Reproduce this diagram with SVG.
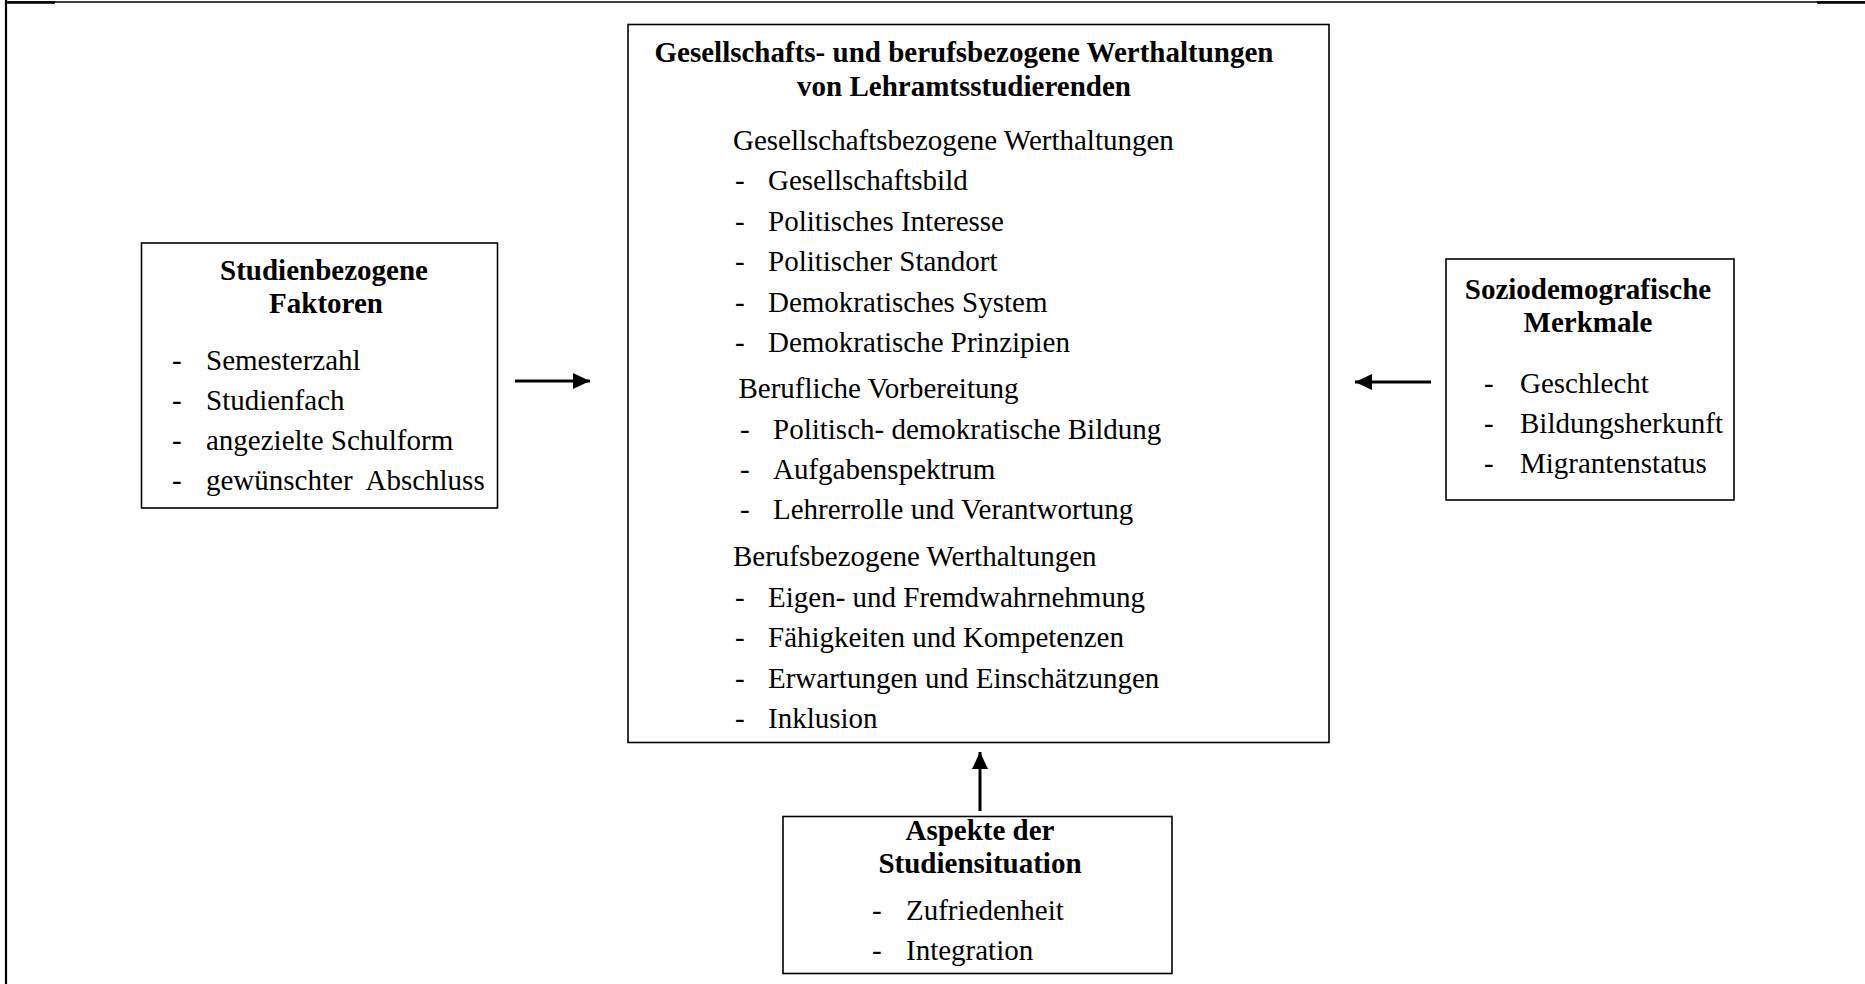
<svg xmlns="http://www.w3.org/2000/svg" width="1865" height="984" viewBox="0 0 1865 984">
<style>
.t{font-family:"Liberation Serif","Times New Roman",serif;font-size:29px;fill:#000;white-space:pre}
.b{font-weight:bold}
.c{text-anchor:middle}
.box{fill:#fff;stroke:#000;stroke-width:1.6}
.arr{stroke:#000;stroke-width:3;fill:none}
</style>
<defs>
<marker id="ah" markerUnits="userSpaceOnUse" markerWidth="18" markerHeight="18" viewBox="0 0 18 18" refX="17" refY="9" orient="auto">
<path d="M0,1 L17,9 L0,17 Z" fill="#000"/>
</marker>
</defs>
<rect width="1865" height="984" fill="#fff"/>
<g id="frame">
<line x1="6" y1="0" x2="6" y2="984" stroke="#000" stroke-width="2.2"/>
<line x1="5" y1="2" x2="1865" y2="2" stroke="#000" stroke-width="1.4"/>
<line x1="5" y1="2.5" x2="55" y2="2.5" stroke="#000" stroke-width="2.5"/>
<line x1="1817" y1="2.5" x2="1865" y2="2.5" stroke="#000" stroke-width="2.5"/>
</g>
<g id="connectors">
<line class="arr" x1="515" y1="381" x2="590" y2="381" marker-end="url(#ah)"/>
<line class="arr" x1="1431" y1="382" x2="1355" y2="382" marker-end="url(#ah)"/>
<line class="arr" x1="980" y1="811" x2="980" y2="752" marker-end="url(#ah)"/>
</g>
<g id="node-center">
<rect class="box" x="628" y="24.5" width="701" height="718"/>
<text class="t b c" x="964" y="62">Gesellschafts- und berufsbezogene Werthaltungen</text>
<text class="t b c" x="964" y="95.5">von Lehramtsstudierenden</text>
<text class="t" x="733" y="150">Gesellschaftsbezogene Werthaltungen</text>
<text class="t" x="735" y="190">-</text><text class="t" x="768" y="190">Gesellschaftsbild</text>
<text class="t" x="735" y="230.5">-</text><text class="t" x="768" y="230.5">Politisches Interesse</text>
<text class="t" x="735" y="271">-</text><text class="t" x="768" y="271">Politischer Standort</text>
<text class="t" x="735" y="311.5">-</text><text class="t" x="768" y="311.5">Demokratisches System</text>
<text class="t" x="735" y="352">-</text><text class="t" x="768" y="352">Demokratische Prinzipien</text>
<text class="t" x="738.5" y="398">Berufliche Vorbereitung</text>
<text class="t" x="740" y="439">-</text><text class="t" x="773" y="439">Politisch- demokratische Bildung</text>
<text class="t" x="740" y="479">-</text><text class="t" x="773" y="479">Aufgabenspektrum</text>
<text class="t" x="740" y="519">-</text><text class="t" x="773" y="519">Lehrerrolle und Verantwortung</text>
<text class="t" x="733" y="566">Berufsbezogene Werthaltungen</text>
<text class="t" x="735" y="607">-</text><text class="t" x="768" y="607">Eigen- und Fremdwahrnehmung</text>
<text class="t" x="735" y="647">-</text><text class="t" x="768" y="647">Fähigkeiten und Kompetenzen</text>
<text class="t" x="735" y="688">-</text><text class="t" x="768" y="688">Erwartungen und Einschätzungen</text>
<text class="t" x="735" y="728">-</text><text class="t" x="768" y="728">Inklusion</text>
</g>
<g id="node-left">
<rect class="box" x="141.5" y="243" width="356" height="265"/>
<text class="t b c" x="324" y="280">Studienbezogene</text>
<text class="t b c" x="326" y="313">Faktoren</text>
<text class="t" x="172" y="370">-</text><text class="t" x="206" y="370">Semesterzahl</text>
<text class="t" x="172" y="410">-</text><text class="t" x="206" y="410">Studienfach</text>
<text class="t" x="172" y="450">-</text><text class="t" x="206" y="450">angezielte Schulform</text>
<text class="t" x="172" y="490">-</text><text class="t" x="206" y="490">gewünschter  Abschluss</text>
</g>
<g id="node-right">
<rect class="box" x="1446" y="259" width="288" height="241"/>
<text class="t b c" x="1588" y="299">Soziodemografische</text>
<text class="t b c" x="1588" y="332">Merkmale</text>
<text class="t" x="1484" y="393">-</text><text class="t" x="1520" y="393">Geschlecht</text>
<text class="t" x="1484" y="433">-</text><text class="t" x="1520" y="433">Bildungsherkunft</text>
<text class="t" x="1484" y="473">-</text><text class="t" x="1520" y="473">Migrantenstatus</text>
</g>
<g id="node-bottom">
<rect class="box" x="783" y="816.5" width="389" height="157"/>
<text class="t b c" x="980" y="840">Aspekte der</text>
<text class="t b c" x="980" y="873">Studiensituation</text>
<text class="t" x="872" y="920">-</text><text class="t" x="906" y="920">Zufriedenheit</text>
<text class="t" x="872" y="960">-</text><text class="t" x="906" y="960">Integration</text>
</g>
</svg>
